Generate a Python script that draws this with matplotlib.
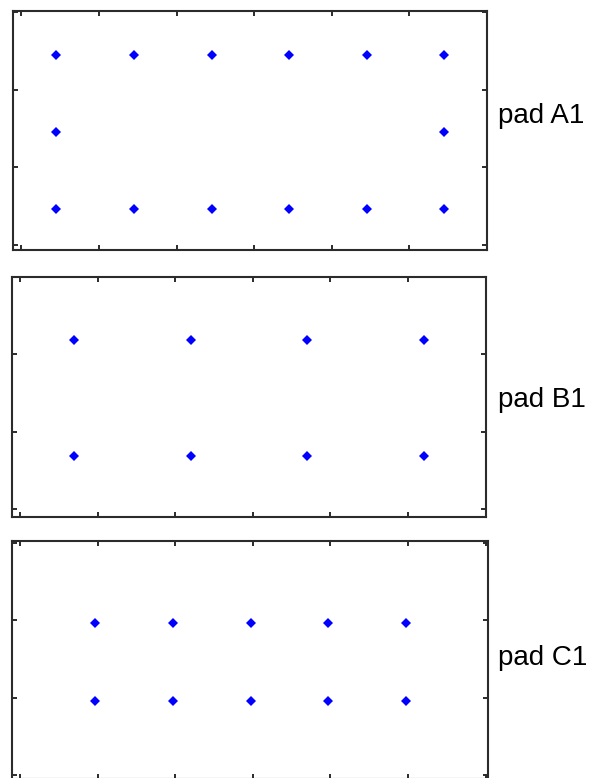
import matplotlib
matplotlib.use("Agg")
import matplotlib.pyplot as plt

# Pad centre coordinates for each layout (grid units)
pad_a_x = [0.45, 1.45, 2.45, 3.45, 4.45, 5.45, 0.45, 5.45, 0.45, 1.45, 2.45, 3.45, 4.45, 5.45]
pad_a_y = [2.45, 2.45, 2.45, 2.45, 2.45, 2.45, 1.45, 1.45, 0.46, 0.46, 0.46, 0.46, 0.46, 0.46]

pad_b_x = [0.70, 2.20, 3.70, 5.20, 0.70, 2.20, 3.70, 5.20]
pad_b_y = [2.19, 2.19, 2.19, 2.19, 0.69, 0.69, 0.69, 0.69]

pad_c_x = [0.97, 1.97, 2.97, 3.97, 4.97, 0.97, 1.97, 2.97, 3.97, 4.97]
pad_c_y = [1.96, 1.96, 1.96, 1.96, 1.96, 0.96, 0.96, 0.96, 0.96, 0.96]

labels = ["pad A1", "pad B1", "pad C1"]
x_ticks = [0, 1, 2, 3, 4, 5, 6]
y_ticks = [0, 1, 2, 3]

W, H = 594, 778
fig = plt.figure(figsize=(W / 100, H / 100), dpi=100)

# panel boxes in pixels: left, top, right, bottom
boxes = [(12.5, 11, 487, 250), (11.7, 277, 486, 517), (12, 541, 488, 779)]
xlims = [(-0.116, 5.99), (-0.107, 6.005), (-0.103, 6.03)]
ylims = [(-0.064, 3.01), (-0.103, 2.97), (-0.05, 3.02)]
label_base = [123, 407, 665]

series = [(pad_a_x, pad_a_y), (pad_b_x, pad_b_y), (pad_c_x, pad_c_y)]

for (l, t, r, b), xl, yl, (xs, ys), lab, base in zip(boxes, xlims, ylims, series, labels, label_base):
    ax = fig.add_axes([l / W, 1 - b / H, (r - l) / W, (b - t) / H])
    ax.plot(xs, ys, linestyle="none", marker="D", markersize=4.8,
            color="#0000ff", markeredgewidth=0)
    ax.set_xlim(*xl)
    ax.set_ylim(*yl)
    ax.set_xticks(x_ticks)
    ax.set_yticks(y_ticks)
    ax.set_xticklabels([])
    ax.set_yticklabels([])
    ax.tick_params(direction="in", length=3.5, width=1.4, color="#2b2b2b",
                   top=True, right=True, bottom=True, left=True)
    for sp in ax.spines.values():
        sp.set_color("#2b2b2b")
        sp.set_linewidth(1.5)
    fig.text(498 / W, 1 - base / H, lab, fontsize=20, family="Liberation Sans",
             ha="left", va="baseline", color="black")

fig.savefig("out.png", dpi=100)
